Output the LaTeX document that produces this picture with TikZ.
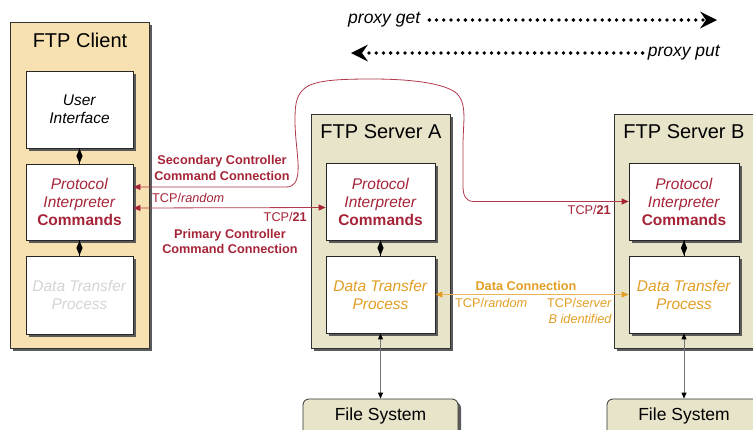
\documentclass[tikz,border=0pt]{standalone}
\usepackage{fontspec}
\setmainfont{Liberation Sans}
\usetikzlibrary{arrows.meta,shapes.geometric,shadows,calc}
\definecolor{clientfill}{RGB}{247,225,176}
\definecolor{serverfill}{RGB}{231,228,202}
\definecolor{ftpred}{RGB}{166,36,56}
\definecolor{redline}{RGB}{176,58,76}
\definecolor{ftporange}{RGB}{226,158,36}
\definecolor{orangeline}{RGB}{232,180,90}
\definecolor{paletext}{RGB}{212,212,212}
\definecolor{shadowc}{RGB}{90,90,90}
\newcommand\ftitlefont{\fontsize{20}{24}\selectfont}
\newcommand\fbodyfont{\fontsize{15.5}{18}\selectfont}
\newcommand\flabelfont{\fontsize{12.7}{15.5}\selectfont}
\newcommand\fproxyfont{\fontsize{17.5}{20}\selectfont\itshape}
\newcommand\ffsfont{\fontsize{17.5}{20}\selectfont}
\tikzset{
  redtip/.tip={Triangle[length=7pt,width=6pt,color=ftpred]},
  orangetip/.tip={Triangle[length=7pt,width=6pt,color=ftporange]},
  blacktip/.tip={Triangle[length=6pt,width=5pt,color=black]},
  bigtip/.tip={Stealth[length=17pt,width=17pt,inset=6pt,line width=0pt]}
}
\begin{document}
\begin{tikzpicture}[x=1pt,y=-1pt,
  shad/.style={drop shadow={shadow xshift=3pt,shadow yshift=-3pt,fill=shadowc,opacity=1}},
  outerbox/.style={draw=black!80,line width=0.8pt,shad,inner sep=0pt},
  innerbox/.style={draw=black!85,line width=0.8pt,fill=white,shad,align=center,font=\fbodyfont,inner sep=0pt},
  fsbox/.style={draw=black!80,line width=0.8pt,fill=serverfill,rounded corners=6pt,shad,font=\ffsfont,inner sep=0pt},
  titletext/.style={font=\ftitlefont,inner sep=0pt},
  dia/.style={diamond,fill=black,draw=none,minimum width=6.5pt,minimum height=15pt,inner sep=0pt},
  lbl/.style={font=\flabelfont,inner sep=0pt},
  redarrow/.style={draw=redline,line width=0.8pt},
  dotline/.style={line width=3.8pt,line cap=round,dash pattern=on 0pt off 7.2pt}
]
\useasboundingbox (0,0) rectangle (753,429);

% outer containers
\node[outerbox,fill=clientfill,minimum width=139pt,minimum height=326pt] (client) at (79.5,185) {};
\node[outerbox,fill=serverfill,minimum width=139pt,minimum height=234pt] (srva) at (380.5,231) {};
\node[outerbox,fill=serverfill,minimum width=139pt,minimum height=234pt] (srvb) at (683.5,231) {};
\node[titletext] (ctitle) at (80,40) {FTP Client};
\node[titletext] (atitle) at (381,132) {FTP Server A};
\node[titletext] (btitle) at (684,132) {FTP Server B};

% client inner boxes
\node[innerbox,minimum width=107pt,minimum height=77pt] (cui) at (79.5,109.5) {\textit{User}\\\textit{Interface}};
\node[innerbox,minimum width=107pt,minimum height=76pt,text=ftpred] (cpi) at (79.5,202) {\textit{Protocol}\\\textit{Interpreter}\\\textbf{Commands}};
\node[innerbox,minimum width=107pt,minimum height=78pt,text=paletext] (cdtp) at (79.5,295) {\textit{Data Transfer}\\\textit{Process}};

% server A inner boxes
\node[innerbox,minimum width=109pt,minimum height=77pt,text=ftpred] (api) at (380.5,201.5) {\textit{Protocol}\\\textit{Interpreter}\\\textbf{Commands}};
\node[innerbox,minimum width=109pt,minimum height=77pt,text=ftporange] (adtp) at (380.5,294.5) {\textit{Data Transfer}\\\textit{Process}};

% server B inner boxes
\node[innerbox,minimum width=110pt,minimum height=77pt,text=ftpred] (bpi) at (684,201.5) {\textit{Protocol}\\\textit{Interpreter}\\\textbf{Commands}};
\node[innerbox,minimum width=110pt,minimum height=77pt,text=ftporange] (bdtp) at (684,294.5) {\textit{Data Transfer}\\\textit{Process}};

% file systems
\node[fsbox,minimum width=155pt,minimum height=42pt] (afs) at (380.5,420) {};
\node[fsbox,minimum width=153pt,minimum height=42pt] (bfs) at (683.5,420) {};
\node[font=\ffsfont,inner sep=0pt] (afst) at (380.5,416) {File System};
\node[font=\ffsfont,inner sep=0pt] (bfst) at (684,416) {File System};

% diamonds
\draw[line width=0.8pt] (cui) -- node[dia] {} (cpi);
\draw[line width=0.8pt] (cpi) -- node[dia] {} (cdtp);
\draw[line width=0.8pt] (api) -- node[dia] {} (adtp);
\draw[line width=0.8pt] (bpi) -- node[dia] {} (bdtp);

% file system arrows
\draw[draw=black!55,line width=1pt,blacktip-blacktip] (adtp.south) -- (adtp.south |- afs.north);
\draw[draw=black!55,line width=1pt,blacktip-blacktip] (bdtp.south) -- (bdtp.south |- bfs.north);

% primary controller connection
\draw[redarrow,redtip-redtip] ([yshift=-6pt]cpi.east) -- ([yshift=-6pt]api.west);

% secondary controller connection
\draw[redarrow,redtip-redtip] (bpi.west) -- (474,201.5)
  .. controls (466,201.5) and (463,196) .. (463,186)
  -- (463,145)
  .. controls (463,122) and (468,102) .. (455,92)
  .. controls (440,82) and (405,79) .. (372,79)
  .. controls (340,79) and (315,80) .. (305,88)
  .. controls (296,95) and (295,105) .. (295,120)
  .. controls (295,140) and (299,160) .. (298,172)
  .. controls (297,182) and (294,187) .. (286,187)
  -- ([yshift=15pt]cpi.east);

% data connection
\draw[draw=orangeline,line width=1pt,orangetip-orangetip] (adtp.east) -- (bdtp.west);

% labels
\node[lbl,text=ftpred,font=\flabelfont\bfseries,align=center] (seclbl) at (222,168) {Secondary Controller\\Command Connection};
\node[lbl,text=ftpred,anchor=west] (tcprand) at (152,198) {TCP/\textit{random}};
\node[lbl,text=ftpred,anchor=east] (tcp21a) at (307,217) {TCP/\textbf{21}};
\node[lbl,text=ftpred,font=\fontsize{12.7}{15}\selectfont\bfseries,align=center] (primlbl) at (230,241.5) {Primary Controller\\Command Connection};
\node[lbl,text=ftpred,anchor=east] (tcp21b) at (611,210) {TCP/\textbf{21}};
\node[lbl,text=ftporange,font=\flabelfont\bfseries] (datalbl) at (526,286) {Data Connection};
\node[lbl,text=ftporange,anchor=west] (tcprand2) at (455,303) {TCP/\textit{random}};
\node[lbl,text=ftporange,anchor=east,align=right,font=\fontsize{12.7}{16}\selectfont] (tcpserv) at (612,311) {TCP/\textit{server}\\\textit{B identified}};

% proxy arrows
\node[font=\fproxyfont,inner sep=0pt,anchor=west] (pget) at (348,20) {proxy get};
\coordinate (gettip) at (717,20);
\draw[dotline,-bigtip] ([xshift=9pt]pget.east) -- (gettip);
\node[font=\fproxyfont,inner sep=0pt,anchor=east] (pput) at (720,53) {proxy put};
\coordinate (puttip) at (351,53);
\draw[dotline,-bigtip] ([xshift=-5pt]pput.west) -- (puttip);
\end{tikzpicture}
\end{document}
